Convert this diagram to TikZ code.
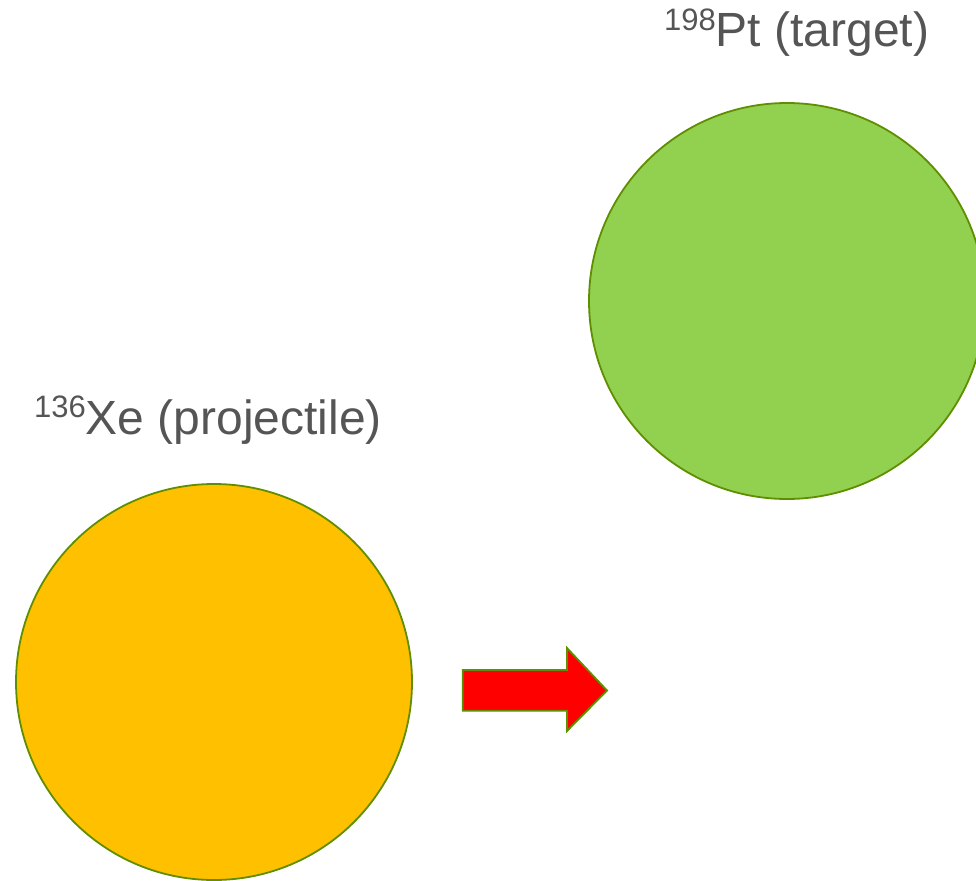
\documentclass[tikz,border=0pt]{standalone}
\usepackage{fontspec}
\setmainfont{Liberation Sans}
\definecolor{labelgray}{HTML}{555555}
\definecolor{xeorange}{HTML}{FFC000}
\definecolor{ptgreen}{HTML}{92D050}
\definecolor{rimgreen}{HTML}{5F8F00}
\definecolor{beamred}{HTML}{FF0000}
\begin{document}
\begin{tikzpicture}[x=1pt,y=-1pt,
  nucleus/.style={circle, draw=rimgreen, line width=1.8pt, minimum size=396pt, inner sep=0pt},
  nuclabel/.style={text=labelgray, inner sep=0pt, anchor=base west, font=\fontsize{48}{52}\selectfont}]
  \useasboundingbox (0,0) rectangle (976,880);
  \clip (0,0) rectangle (976,880);
  % target and projectile nuclei
  \node[nucleus, fill=ptgreen] (target) at (787,301) {};
  \node[nucleus, fill=xeorange] (proj) at (214,682) {};
  % labels
  \node[nuclabel] (tlabel) at (664,47) {\raisebox{0.34em}{\fontsize{31}{34}\selectfont 198}Pt (target)};
  \node[nuclabel] (plabel) at (34,434) {\raisebox{0.34em}{\fontsize{31}{34}\selectfont 136}Xe (projectile)};
  % beam direction arrow
  \draw[draw=rimgreen, line width=1.8pt, fill=beamred, line join=miter]
    (462.7,670) -- (567,670) -- (567,648) -- (607,690.5) -- (567,731) -- (567,710.7) -- (462.7,710.7) -- cycle;
\end{tikzpicture}
\end{document}
